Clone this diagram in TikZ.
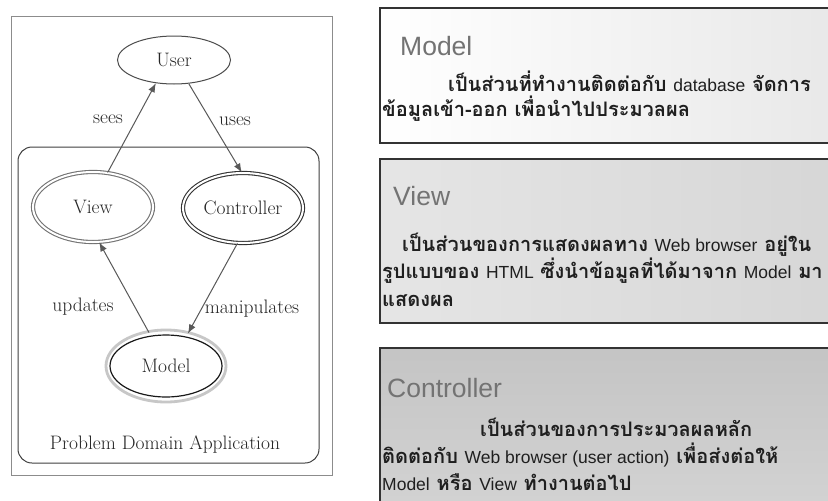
\documentclass[tikz,border=0pt]{standalone}
\usepackage{fontspec}
\usetikzlibrary{shapes.geometric,arrows.meta}
\newfontfamily\thaifont[Script=Thai]{Loma}
\newfontfamily\latinfont{Liberation Sans}
\newcommand\en[1]{{\latinfont\mdseries\fontsize{17.5}{21}\selectfont #1}}

\tikzset{
  frame/.style={draw=black!45, line width=0.8pt},
  domainbox/.style={draw=black!75, line width=1pt, rounded corners=14pt},
  state/.style={ellipse, draw=black!70, line width=1pt, inner sep=0pt,
    font=\fontsize{19.5}{23}\selectfont, text=black!85},
  dblstate/.style={state, double=white, double distance=2pt, line width=1.1pt,
    minimum width=120pt, minimum height=70pt},
  edge/.style={draw=black!65, line width=1pt, -{Latex[length=9pt,width=7pt]}},
  lbl/.style={inner sep=0pt, font=\fontsize{19.5}{23}\selectfont, text=black!85},
  panel/.style={draw=black!80, line width=1.6pt},
  ptitle/.style={anchor=base west, inner sep=0pt,
    font=\latinfont\fontsize{26.5}{30}\selectfont, text=black!55},
  pline/.style={anchor=base west, inner sep=0pt,
    font=\thaifont\bfseries\fontsize{20}{24}\selectfont, text=black!88},
}

\begin{document}
\begin{tikzpicture}[x=1pt,y=-1pt]
\useasboundingbox (0,0) rectangle (828,501);
\fill[white] (0,0) rectangle (828,501);
\clip (0,0) rectangle (828,501);

% ---- MVC graph ----
\draw[frame] (11,16) rectangle (332,475);
\draw[domainbox] (18,147) rectangle (319,463);

\node[state, minimum width=113pt, minimum height=48pt] (user) at (174,60) {User};
\node[dblstate, draw=black!55] (view) at (93,207) {View};
\node[dblstate, draw=black!80] (ctrl) at (243,208) {Controller};
\node[state, draw=black!90, line width=1.2pt, minimum width=112pt,
      minimum height=62pt, outer sep=4pt] (model) at (166,366) {Model};
\draw[black!22, line width=2.8pt] (model.center) ellipse [x radius=60, y radius=36];

\draw[edge] (view.67) -- (user.232);
\draw[edge] (user.302) -- (ctrl.92);
\draw[edge] (model.117) -- (view.280);
\draw[edge] (ctrl.261) -- (model.56);

\node[lbl] (lsees) at (108,119) {sees};
\node[lbl] (luses) at (235,121) {uses};
\node[lbl] (lupd) at (83,307) {updates};
\node[lbl] (lman) at (252,309) {manipulates};
\node[lbl] (ldomain) at (165,445) {Problem Domain Application};

% ---- description panels ----
\draw[panel, left color=white, right color=black!9] (380,8) rectangle (840,143);
\draw[panel, left color=black!10, right color=black!16] (380,159) rectangle (840,323);
\draw[panel, top color=black!23, bottom color=black!17] (380,348) rectangle (840,520);

\node[ptitle] (tmodel) at (400,55) {Model};
\node[pline] (m1) at (448,91) {เป็นส่วนที่ทำงานติดต่อกับ \en{database} จัดการ};
\node[pline] (m2) at (382,116) {ข้อมูลเข้า-ออก เพื่อนำไปประมวลผล};

\node[ptitle] (tview) at (393,205) {View};
\node[pline] (v1) at (402,251) {เป็นส่วนของการแสดงผลทาง \en{Web browser} อยู่ใน};
\node[pline] (v2) at (382,278) {รูปแบบของ \en{HTML} ซึ่งนำข้อมูลที่ได้มาจาก \en{Model} มา};
\node[pline] (v3) at (382,306) {แสดงผล};

\node[ptitle] (tctrl) at (387,397) {Controller};
\node[pline] (c1) at (480,436) {เป็นส่วนของการประมวลผลหลัก};
\node[pline] (c2) at (382,463) {ติดต่อกับ \en{Web browser (user action)} เพื่อส่งต่อให้};
\node[pline] (c3) at (382,490) {\en{Model} หรือ \en{View} ทำงานต่อไป};
\end{tikzpicture}
\end{document}
